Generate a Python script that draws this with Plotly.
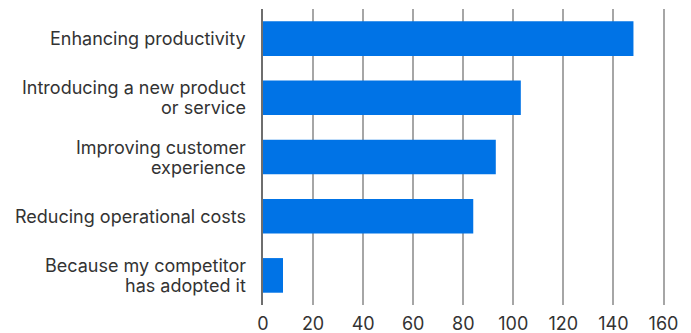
import plotly.graph_objects as go

categories = [
    "Enhancing productivity",
    "Introducing a new product<br>or service",
    "Improving customer<br>experience",
    "Reducing operational costs",
    "Because my competitor<br>has adopted it",
]
values = [148, 103, 93, 84, 8]
x_ticks = [0, 20, 40, 60, 80, 100, 120, 140, 160]

LINE_GAP = 20  # px between label lines

fig = go.Figure(go.Bar(
    x=values, y=categories, orientation="h",
    marker=dict(color="#0073E6", line=dict(width=0)),
))

# category labels drawn as right-aligned text lines next to each category
annotations = []
for cat in categories:
    lines = cat.split("<br>")
    n = len(lines)
    for i, line in enumerate(lines):
        annotations.append(dict(
            text=line, xref="paper", x=0, yref="y", y=cat,
            xanchor="right", yanchor="middle", showarrow=False,
            xshift=-15, yshift=((n - 1) / 2 - i) * LINE_GAP,
            font=dict(size=18, color="#333333"),
        ))

# page body has an 8px default margin, so the figure is offset by 8px
fig.update_layout(
    width=683, height=325,
    margin=dict(l=255, r=25, t=1, b=28, autoexpand=False),
    plot_bgcolor="white", paper_bgcolor="white",
    bargap=0.415,
    showlegend=False,
    font=dict(family="Inter, Liberation Sans, Arial", color="#333333", size=18),
    annotations=annotations,
)
fig.update_xaxes(
    range=[0, 161], tickvals=x_ticks, showgrid=True, gridcolor="#a6a6a6", gridwidth=1.5,
    zeroline=False, showline=False, tickfont=dict(size=18), ticks="",
    ticklabelstandoff=6, automargin=False,
)
fig.update_yaxes(
    autorange="reversed", showline=True, linecolor="#6e6e6e", linewidth=2,
    ticks="", showticklabels=False, automargin=False,
)
fig.write_html("out.html")
